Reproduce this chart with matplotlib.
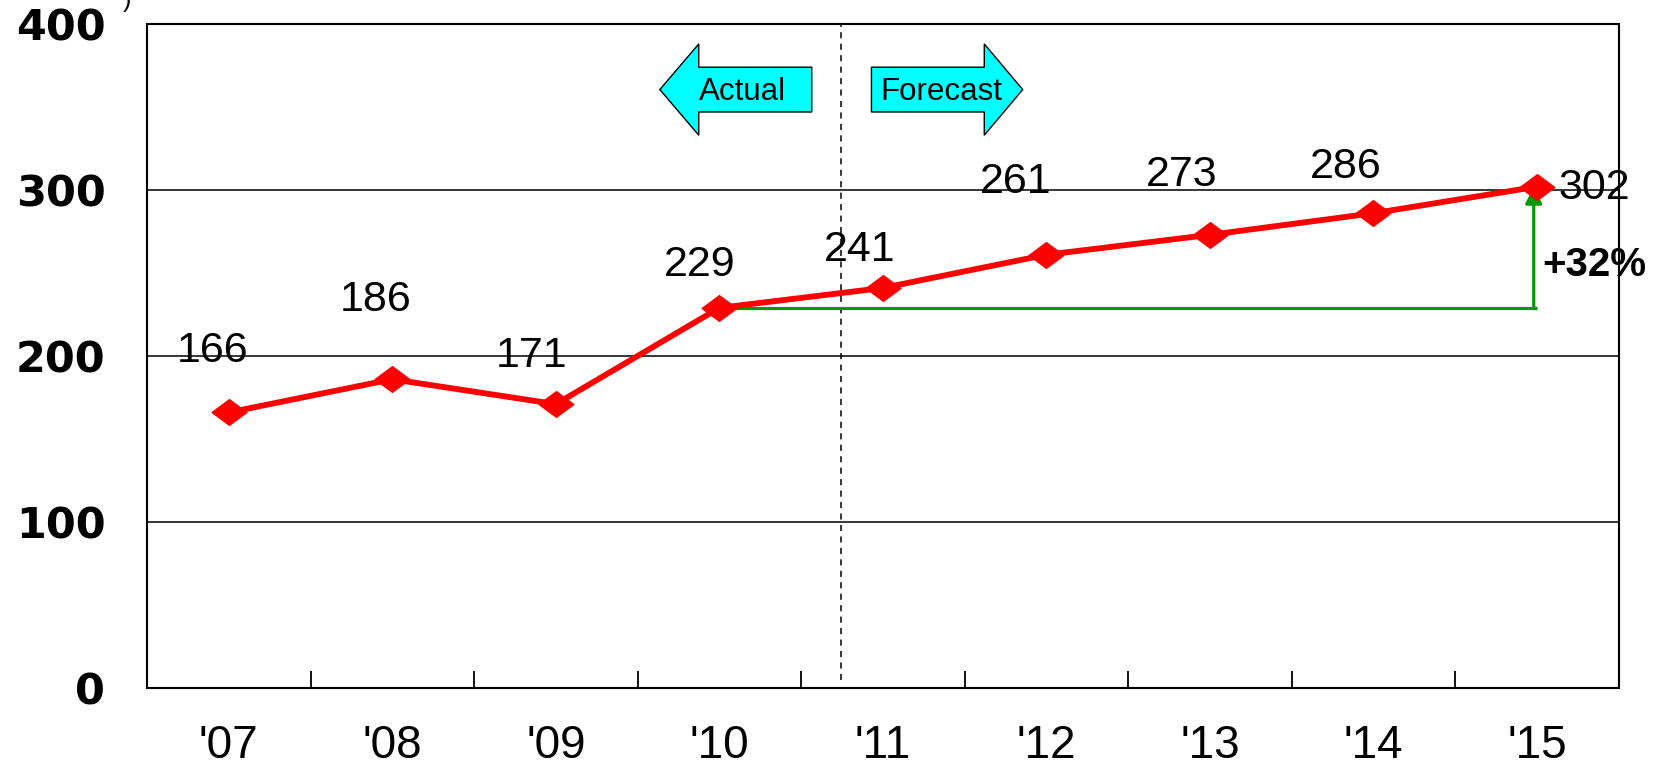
import matplotlib
matplotlib.use("Agg")
import matplotlib.pyplot as plt
from matplotlib.patches import Polygon
from matplotlib.path import Path

# ---- data ----
years = ["'07", "'08", "'09", "'10", "'11", "'12", "'13", "'14", "'15"]
values = [166, 186, 171, 229, 241, 261, 273, 286, 302]
y_ticks = [0, 100, 200, 300, 400]
growth_label = "+32%"
actual_label = "Actual"
forecast_label = "Forecast"
base_index = 3  # '10 -> growth measured from here

# label placement offsets (layout only), in data units relative to each point
lab_dx = [-0.10, -0.10, -0.15, -0.12, -0.14, -0.19, -0.17, -0.17, 0.35]
lab_dy = [37, 48, 29, 26, 23, 44, 36, 28, -1]

fig = plt.figure(figsize=(16.63, 7.67), dpi=100)
ax = fig.add_axes([0.0884, 0.103, 0.885, 0.8657])

x = list(range(len(years)))
ax.set_xlim(-0.5, len(years) - 0.5)
ax.set_ylim(0, 400)

# gridlines
for yv in y_ticks[1:-1]:
    ax.axhline(yv, color="black", lw=1.1, zorder=1)

# diamond marker (slightly flattened)
diamond = Path([(-1, 0), (0, 0.74), (1, 0), (0, -0.74), (-1, 0)],
               [Path.MOVETO, Path.LINETO, Path.LINETO, Path.LINETO, Path.CLOSEPOLY])

ax.plot(x, values, color="#FF0000", lw=4.2, marker=diamond, markersize=25,
        markerfacecolor="#FF0000", markeredgecolor="#FF0000", zorder=5,
        solid_joinstyle="round")

for i, v in enumerate(values):
    ax.text(x[i] + lab_dx[i], v + lab_dy[i], str(v), ha="center", va="center",
            fontsize=31, family="Liberation Sans", color="black", zorder=6)

# dashed divider between actual and forecast
div_x = 3.742
ax.plot([div_x, div_x], [5, 400], color="black", lw=1.1, ls=(0, (4, 3.5)), zorder=2)

# Actual / Forecast arrows
yc = 360.5
bh = 13.5   # body half-height
hh = 27.5   # head half-height
act = Polygon([(2.636, yc), (2.874, yc + hh), (2.874, yc + bh), (3.565, yc + bh),
               (3.565, yc - bh), (2.874, yc - bh), (2.874, yc - hh)],
              closed=True, facecolor="#00FFFF", edgecolor="black", lw=1.0, zorder=3)
fc = Polygon([(3.93, yc + bh), (4.62, yc + bh), (4.62, yc + hh), (4.855, yc),
              (4.62, yc - hh), (4.62, yc - bh), (3.93, yc - bh)],
             closed=True, facecolor="#00FFFF", edgecolor="black", lw=1.0, zorder=3)
ax.add_patch(act)
ax.add_patch(fc)
ax.text(3.143, yc - 1.5, actual_label, ha="center", va="center", fontsize=22.5,
        family="Liberation Sans", zorder=4)
ax.text(4.357, yc - 1.5, forecast_label, ha="center", va="center", fontsize=22.5,
        family="Liberation Sans", zorder=4)

# growth indicator (green)
green = "#009900"
last = len(values) - 1
ax.plot([x[base_index], x[last]], [values[base_index], values[base_index]],
        color=green, lw=2.3, zorder=4, solid_capstyle="butt")
ax.annotate("", xy=(x[last] - 0.02, values[last]), xytext=(x[last] - 0.02, values[base_index]),
            arrowprops=dict(arrowstyle="-|>,head_length=1.0,head_width=0.5",
                            color=green, lw=2.3, shrinkA=0, shrinkB=0), zorder=4)
ax.text(x[last] + 0.03, 255, growth_label, ha="left", va="center", fontsize=29,
        fontweight="bold", family="Liberation Sans", zorder=6)

# axes styling
for s in ax.spines.values():
    s.set_linewidth(1.5)
    s.set_color("black")

ax.set_yticks(y_ticks)
ax.set_yticklabels([str(t) for t in y_ticks], fontsize=31, fontweight="bold",
                   family="DejaVu Sans")
ax.tick_params(axis="y", length=0, pad=30)

ax.set_xticks([i + 0.5 for i in range(len(years) - 1)], minor=False)
ax.set_xticklabels([""] * (len(years) - 1))
ax.tick_params(axis="x", which="major", direction="in", length=12, width=1.3)
ax.set_xticks(x, minor=True)
ax.set_xticklabels(years, minor=True, fontsize=33, family="Liberation Sans")
ax.tick_params(axis="x", which="minor", length=0, pad=26)

# stray clipped glyph at the top edge
fig.text(127 / 1663, 1.0, ")", fontsize=18, ha="center", va="center",
         family="Liberation Sans")

fig.savefig("out.png", dpi=100)
